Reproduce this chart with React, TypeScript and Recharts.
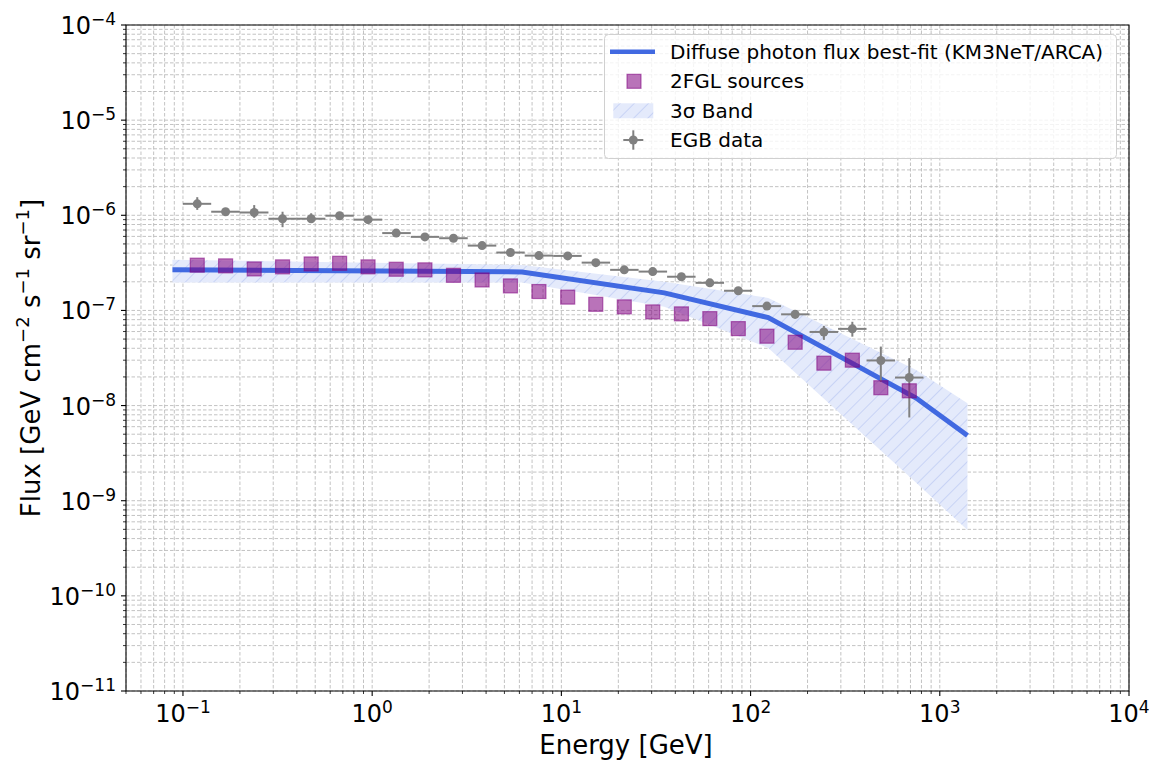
import React from 'react';
import {
  ComposedChart,
  XAxis,
  YAxis,
  CartesianGrid,
  Line,
  Area,
  Scatter,
  ErrorBar,
  ReferenceArea,
  Legend,
} from 'recharts';

const FONT = '"DejaVu Sans", "Liberation Sans", sans-serif';

// Energy bins (GeV) of the extragalactic gamma-ray background measurement
const binLow = [0.1, 0.141, 0.2, 0.283, 0.4, 0.566, 0.8, 1.13, 1.6, 2.26, 3.2, 4.53, 6.4, 9.05, 12.8, 18.1, 25.6, 36.2, 51.2, 72.4, 102, 145, 205, 290, 410, 580];
const binHigh = [0.141, 0.2, 0.283, 0.4, 0.566, 0.8, 1.13, 1.6, 2.26, 3.2, 4.53, 6.4, 9.05, 12.8, 18.1, 25.6, 36.2, 51.2, 72.4, 102, 145, 205, 290, 410, 580, 820];
const binCenter = [0.119, 0.168, 0.238, 0.336, 0.476, 0.673, 0.951, 1.34, 1.9, 2.69, 3.81, 5.38, 7.61, 10.8, 15.2, 21.5, 30.4, 43.1, 60.9, 86.1, 122, 172, 244, 345, 488, 690];

// EGB flux and its lower / upper limits (GeV cm^-2 s^-1 sr^-1)
const egbFlux = [1.32e-6, 1.09e-6, 1.07e-6, 9.2e-7, 9.2e-7, 9.9e-7, 9.0e-7, 6.5e-7, 5.93e-7, 5.74e-7, 4.8e-7, 4.06e-7, 3.77e-7, 3.74e-7, 3.18e-7, 2.67e-7, 2.56e-7, 2.26e-7, 1.95e-7, 1.61e-7, 1.11e-7, 9.1e-8, 5.94e-8, 6.4e-8, 2.98e-8, 1.97e-8];
const egbLow = [1.14e-6, 1.01e-6, 9.4e-7, 7.5e-7, 8.3e-7, 9.2e-7, 8.4e-7, 6.1e-7, 5.6e-7, 5.4e-7, 4.5e-7, 3.8e-7, 3.55e-7, 3.5e-7, 2.99e-7, 2.5e-7, 2.4e-7, 2.12e-7, 1.83e-7, 1.5e-7, 1.03e-7, 8.2e-8, 4.9e-8, 5.3e-8, 1.77e-8, 7.5e-9];
const egbHigh = [1.55e-6, 1.17e-6, 1.28e-6, 1.09e-6, 1.05e-6, 1.06e-6, 9.6e-7, 6.9e-7, 6.3e-7, 6.1e-7, 5.1e-7, 4.3e-7, 4.0e-7, 3.97e-7, 3.37e-7, 2.83e-7, 2.72e-7, 2.4e-7, 2.07e-7, 1.72e-7, 1.19e-7, 1.0e-7, 6.87e-8, 7.6e-8, 4.17e-8, 3.15e-8];

// Summed 2FGL point-source flux in the same bins
const fglFlux = [2.99e-7, 2.94e-7, 2.73e-7, 2.87e-7, 3.08e-7, 3.13e-7, 2.87e-7, 2.71e-7, 2.67e-7, 2.34e-7, 2.09e-7, 1.81e-7, 1.58e-7, 1.38e-7, 1.16e-7, 1.09e-7, 9.65e-8, 9.2e-8, 8.2e-8, 6.44e-8, 5.36e-8, 4.63e-8, 2.79e-8, 3.0e-8, 1.54e-8, 1.43e-8];

// KM3NeT/ARCA best-fit diffuse photon flux and its 3 sigma band
const fitEnergy = [0.088, 6.2, 35, 124, 750, 1400];
const fitFlux = [2.67e-7, 2.54e-7, 1.53e-7, 8.4e-8, 1.2e-8, 4.85e-9];
const bandUpper = [3.4e-7, 3.0e-7, 2.0e-7, 1.35e-7, 2.37e-8, 1.06e-8];
const bandLower = [1.96e-7, 1.96e-7, 1.09e-7, 4.04e-8, 1.54e-9, 4.93e-10];

// Axis decades and their exponent labels
const xMajorTicks = [0.1, 1, 10, 100, 1000, 10000];
const xTickExponents = ['\u22121', '0', '1', '2', '3', '4'];
const yMajorTicks = [1e-11, 1e-10, 1e-9, 1e-8, 1e-7, 1e-6, 1e-5, 1e-4];
const yTickExponents = ['\u221211', '\u221210', '\u22129', '\u22128', '\u22127', '\u22126', '\u22125', '\u22124'];

const X_DOMAIN: [number, number] = [0.05, 10000];
const Y_DOMAIN: [number, number] = [1e-11, 1e-4];

const minorTicks = (majors: number[], lo: number, hi: number) => {
  const out: number[] = [];
  const decades = [majors[0] / 10, ...majors];
  decades.forEach((d) => {
    for (let m = 2; m <= 9; m++) {
      const v = m * d;
      if (v >= lo * 0.999 && v <= hi * 1.001) out.push(v);
    }
  });
  return out;
};

const xTicks = [...xMajorTicks, ...minorTicks(xMajorTicks, X_DOMAIN[0], X_DOMAIN[1])].sort((a, b) => a - b);
const yTicks = [...yMajorTicks, ...minorTicks(yMajorTicks, Y_DOMAIN[0], Y_DOMAIN[1])].sort((a, b) => a - b);

const majorIndex = (v: number, majors: number[]) =>
  majors.findIndex((m) => Math.abs(Math.log10(v) - Math.log10(m)) < 1e-6);

const egbData = binCenter.map((x, i) => ({
  x,
  y: egbFlux[i],
  ex: [x - binLow[i], binHigh[i] - x],
  ey: [egbFlux[i] - egbLow[i], egbHigh[i] - egbFlux[i]],
}));
const fglData = binCenter.map((x, i) => ({ x, y: fglFlux[i] }));
const fitData = fitEnergy.map((x, i) => ({ x, y: fitFlux[i] }));
const bandData = fitEnergy.map((x, i) => ({ x, band: [bandLower[i], bandUpper[i]] }));

const BLUE = '#4169e1';
const PURPLE = '#800080';
const GREY = '#808080';

const XTick = (props: any) => {
  const { x, y, payload } = props;
  const idx = majorIndex(payload.value, xMajorTicks);
  const major = idx >= 0;
  return (
    <g>
      <line x1={x} x2={x} y1={y} y2={y + (major ? 5 : 3)} stroke="#000" strokeWidth={major ? 1.1 : 0.8} />
      {major && (
        <text x={x} y={y + 31} textAnchor="middle" fontSize={24} fontFamily={FONT} fill="#000">
          <tspan>10</tspan>
          <tspan dy={-9} fontSize={17}>{xTickExponents[idx]}</tspan>
        </text>
      )}
    </g>
  );
};

const YTick = (props: any) => {
  const { x, y, payload } = props;
  const idx = majorIndex(payload.value, yMajorTicks);
  const major = idx >= 0;
  return (
    <g>
      <line x1={x - (major ? 5 : 3)} x2={x} y1={y} y2={y} stroke="#000" strokeWidth={major ? 1.1 : 0.8} />
      {major && (
        <text x={x - 10} y={y + 9} textAnchor="end" fontSize={24} fontFamily={FONT} fill="#000">
          <tspan>10</tspan>
          <tspan dy={-9} fontSize={17}>{yTickExponents[idx]}</tspan>
        </text>
      )}
    </g>
  );
};

const SquareMarker = (props: any) => {
  const { cx, cy } = props;
  if (cx == null || cy == null) return null;
  return (
    <rect x={cx - 7} y={cy - 7} width={14} height={14} fill={PURPLE} fillOpacity={0.55} stroke={PURPLE} strokeOpacity={0.55} strokeWidth={1.2} />
  );
};

const DotMarker = (props: any) => {
  const { cx, cy } = props;
  if (cx == null || cy == null) return null;
  return <circle cx={cx} cy={cy} r={4.5} fill={GREY} />;
};

const HatchDef = ({ id }: { id: string }) => (
  <pattern id={id} width={10} height={10} patternUnits="userSpaceOnUse" patternTransform="rotate(45)">
    <rect x={0} y={0} width={10} height={10} fill="#e4eafb" />
    <line x1={0} y1={0} x2={0} y2={10} stroke="#b6c4f1" strokeWidth={1.2} />
  </pattern>
);

const LegendBox = () => (
  <svg width={513} height={125} style={{ display: 'block', overflow: 'visible' }}>
    <defs>
      <HatchDef id="legendHatch" />
    </defs>
    <rect x={0.5} y={0.5} width={512} height={124} rx={4} ry={4} fill="#fff" fillOpacity={0.8} stroke="#d0d0d0" strokeWidth={1} />
    <line x1={6} x2={51} y1={17.7} y2={17.7} stroke={BLUE} strokeWidth={4.5} />
    <text x={66} y={24.5} fontSize={20} fontFamily={FONT} fill="#000">Diffuse photon flux best-fit (KM3NeT/ARCA)</text>
    <rect x={23} y={40.3} width={14} height={14} fill={PURPLE} fillOpacity={0.55} stroke={PURPLE} strokeOpacity={0.55} strokeWidth={1.2} />
    <text x={66} y={54.3} fontSize={20} fontFamily={FONT} fill="#000">2FGL sources</text>
    <rect x={9.3} y={69.3} width={40} height={15} fill="url(#legendHatch)" />
    <text x={66} y={83.5} fontSize={20} fontFamily={FONT} fill="#000">3σ Band</text>
    <line x1={19.3} x2={39.3} y1={106} y2={106} stroke={GREY} strokeWidth={2} />
    <line x1={29.3} x2={29.3} y1={96.3} y2={115.7} stroke={GREY} strokeWidth={2} />
    <circle cx={29.3} cy={106} r={4.5} fill={GREY} />
    <text x={66} y={112.7} fontSize={20} fontFamily={FONT} fill="#000">EGB data</text>
  </svg>
);

export default function App() {
  return (
    <div style={{ position: 'absolute', left: 0, top: 0, width: 1149, height: 760, background: '#fff' }}>
      <ComposedChart width={1149} height={760} margin={{ top: 25, right: 20, bottom: 0, left: 0 }}>
        <defs>
          <HatchDef id="bandHatch" />
        </defs>
        <CartesianGrid stroke="#b4b4b4" strokeWidth={0.8} strokeDasharray="3.5 2" />
        <XAxis
          type="number"
          dataKey="x"
          scale="log"
          domain={X_DOMAIN}
          allowDataOverflow
          ticks={xTicks}
          interval={0}
          tick={<XTick />}
          tickLine={false}
          axisLine={false}
          tickSize={0}
          tickMargin={0}
          height={69}
        />
        <YAxis
          type="number"
          dataKey="y"
          scale="log"
          domain={Y_DOMAIN}
          allowDataOverflow
          ticks={yTicks}
          interval={0}
          tick={<YTick />}
          tickLine={false}
          axisLine={false}
          tickSize={0}
          tickMargin={0}
          width={126}
        />
        <Area
          data={bandData}
          dataKey="band"
          type="linear"
          stroke="none"
          fill="url(#bandHatch)"
          fillOpacity={1}
          activeDot={false}
          dot={false}
          isAnimationActive={false}
        />
        <Line
          data={fitData}
          dataKey="y"
          type="linear"
          stroke={BLUE}
          strokeWidth={5}
          dot={false}
          activeDot={false}
          isAnimationActive={false}
        />
        <Scatter data={fglData} dataKey="y" shape={<SquareMarker />} isAnimationActive={false} />
        <Scatter data={egbData} dataKey="y" shape={<DotMarker />} isAnimationActive={false}>
          <ErrorBar dataKey="ex" direction="x" width={0} stroke={GREY} strokeWidth={2} />
          <ErrorBar dataKey="ey" direction="y" width={0} stroke={GREY} strokeWidth={2} />
        </Scatter>
        <ReferenceArea
          x1={X_DOMAIN[0]}
          x2={X_DOMAIN[1]}
          y1={Y_DOMAIN[0]}
          y2={Y_DOMAIN[1]}
          fill="none"
          fillOpacity={0}
          stroke="#000"
          strokeWidth={1.1}
          strokeOpacity={1}
          ifOverflow="visible"
        />
        <text x={626} y={754} textAnchor="middle" fontSize={26} fontFamily={FONT} fill="#000">
          Energy [GeV]
        </text>
        <text transform="translate(40, 358) rotate(-90)" x={0} y={0} textAnchor="middle" fontSize={26} fontFamily={FONT} fill="#000">
          <tspan>Flux [GeV cm</tspan>
          <tspan dy={-11} fontSize={18}>{'\u22122'}</tspan>
          <tspan dy={11}> s</tspan>
          <tspan dy={-11} fontSize={18}>{'\u22121'}</tspan>
          <tspan dy={11}> sr</tspan>
          <tspan dy={-11} fontSize={18}>{'\u22121'}</tspan>
          <tspan dy={11}>]</tspan>
        </text>
        <Legend
          layout="vertical"
          align="center"
          verticalAlign="middle"
          wrapperStyle={{ left: 604, top: 34, width: 513, height: 125 }}
          content={() => <LegendBox />}
        />
      </ComposedChart>
    </div>
  );
}
